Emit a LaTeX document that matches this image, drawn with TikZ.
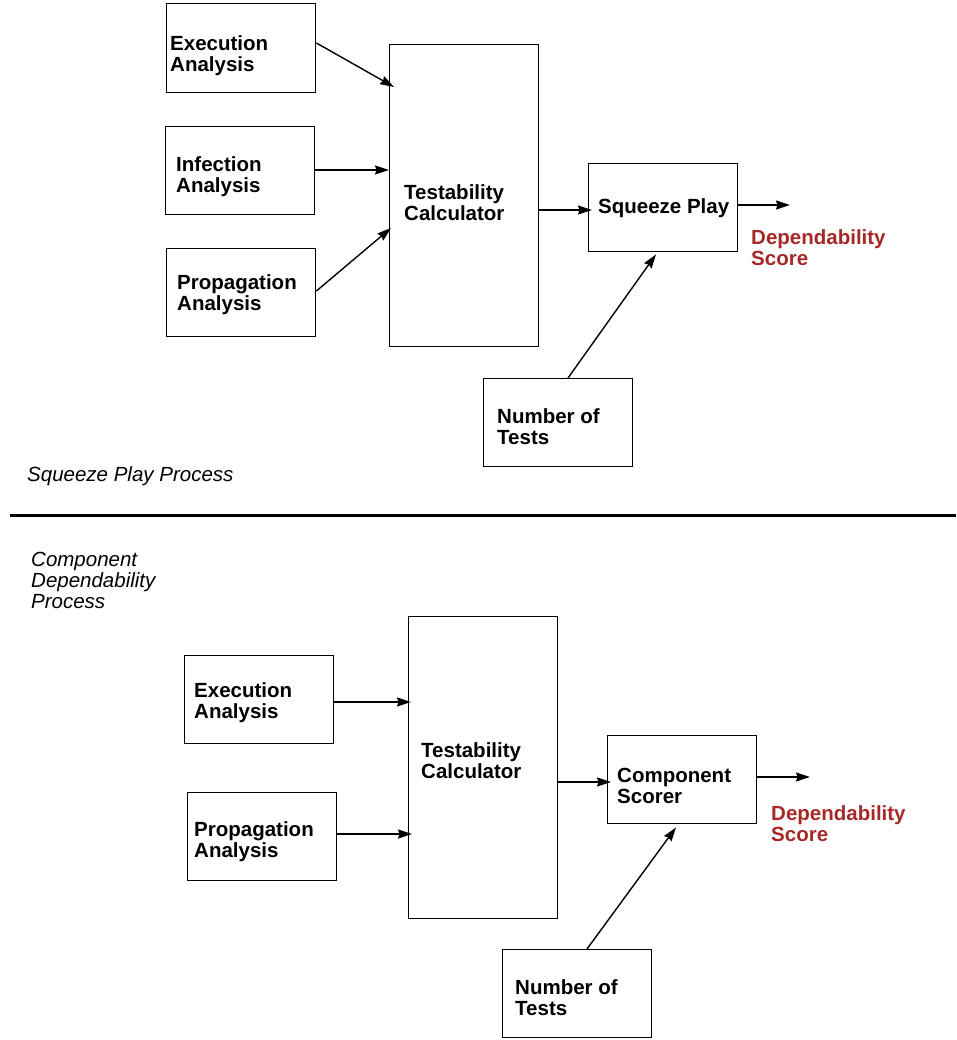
\documentclass[tikz,border=0pt]{standalone}
\usepackage{fontspec}
\setmainfont{Liberation Sans}
\usetikzlibrary{arrows.meta,calc}
\definecolor{depred}{RGB}{166,40,40}
\begin{document}
\begin{tikzpicture}[x=1pt,y=-1pt,
  box/.style={draw,line width=1.4pt,rectangle,inner sep=0pt,anchor=north west},
  lbl/.style={anchor=west,inner sep=0pt,align=left,yshift=-2pt,font=\fontsize{20.5}{21}\selectfont\bfseries},
  captext/.style={anchor=west,inner sep=0pt,align=left,yshift=-1.5pt,font=\fontsize{20.5}{21}\selectfont\itshape},
  arr/.style={line width=1.4pt,-{Stealth[length=14pt,width=9pt,inset=1.5pt]}}]
\useasboundingbox (0,0) rectangle (956,1040);
% ---------- top ----------
\node[box,minimum width=149pt,minimum height=89pt] (exec) at (166,3) {};
\node[box,minimum width=149pt,minimum height=88pt] (inf) at (165,126) {};
\node[box,minimum width=149pt,minimum height=88pt] (prop) at (166,248) {};
\node[box,minimum width=149pt,minimum height=302pt] (tc) at (389,44) {};
\node[box,minimum width=149pt,minimum height=88pt] (sq) at (588,163) {};
\node[box,minimum width=149pt,minimum height=88pt] (num) at (483,378) {};
\node[lbl] (exect) at (170,53.5) {Execution\\Analysis};
\node[lbl] (inft) at (176,174.5) {Infection\\Analysis};
\node[lbl] (propt) at (177,292.5) {Propagation\\Analysis};
\node[lbl] (tct) at (404,201) {Testability\\Calculator};
\node[lbl] (sqt) at (598,206) {Squeeze Play};
\node[lbl] (numt) at (497,424.5) {Number of\\Tests};
\node[lbl,text=depred] (dep) at (751,245.5) {Dependability\\Score};
\node[captext] (cap1) at (27,475) {Squeeze Play Process};
\coordinate (depend) at (790,205);
\draw[arr] ($(exec.north east)+(0,40)$) -- ($(tc.north west)+(5,43)$);
\draw[arr] ($(inf.north east)+(0,44)$) -- ($(tc.north west)+(0,126)$);
\draw[arr] ($(prop.north east)+(0,43)$) -- ($(tc.north west)+(2,184)$);
\draw[arr] ($(tc.north east)+(0,166)$) -- ($(sq.north west)+(4,47)$);
\draw[arr] ($(sq.north east)+(0,42)$) -- (depend);
\draw[arr] ($(num.north west)+(85,0)$) -- ($(sq.south west)+(68,2)$);
% ---------- separator ----------
\coordinate (sepl) at (10,515);
\coordinate (sepr) at (956,515);
\draw[line width=3pt] (sepl) -- (sepr);
% ---------- bottom ----------
\node[captext] (cap2) at (31,578.5) {Component\\Dependability\\Process};
\node[box,minimum width=149pt,minimum height=88pt] (exec2) at (184,655) {};
\node[box,minimum width=149pt,minimum height=88pt] (prop2) at (187,792) {};
\node[box,minimum width=149pt,minimum height=302pt] (tc2) at (408,616) {};
\node[box,minimum width=149pt,minimum height=88pt] (cs) at (607,735) {};
\node[box,minimum width=149pt,minimum height=88pt] (num2) at (502,949) {};
\node[lbl] (exec2t) at (194,700.5) {Execution\\Analysis};
\node[lbl] (prop2t) at (194,839.5) {Propagation\\Analysis};
\node[lbl] (tc2t) at (421,758.5) {Testability\\Calculator};
\node[lbl] (cst) at (617,783.5) {Component\\Scorer};
\node[lbl,text=depred] (dep2) at (771,821.5) {Dependability\\Score};
\node[lbl] (num2t) at (515,995.5) {Number of\\Tests};
\coordinate (dep2end) at (810,777);
\draw[arr] ($(exec2.north east)+(0,47)$) -- ($(tc2.north west)+(3,86)$);
\draw[arr] ($(prop2.north east)+(0,42)$) -- ($(tc2.north west)+(4,218)$);
\draw[arr] ($(tc2.north east)+(0,166)$) -- ($(cs.north west)+(4,47)$);
\draw[arr] ($(cs.north east)+(0,42)$) -- (dep2end);
\draw[arr] ($(num2.north west)+(85,0)$) -- ($(cs.south west)+(69,3)$);
\end{tikzpicture}
\end{document}
